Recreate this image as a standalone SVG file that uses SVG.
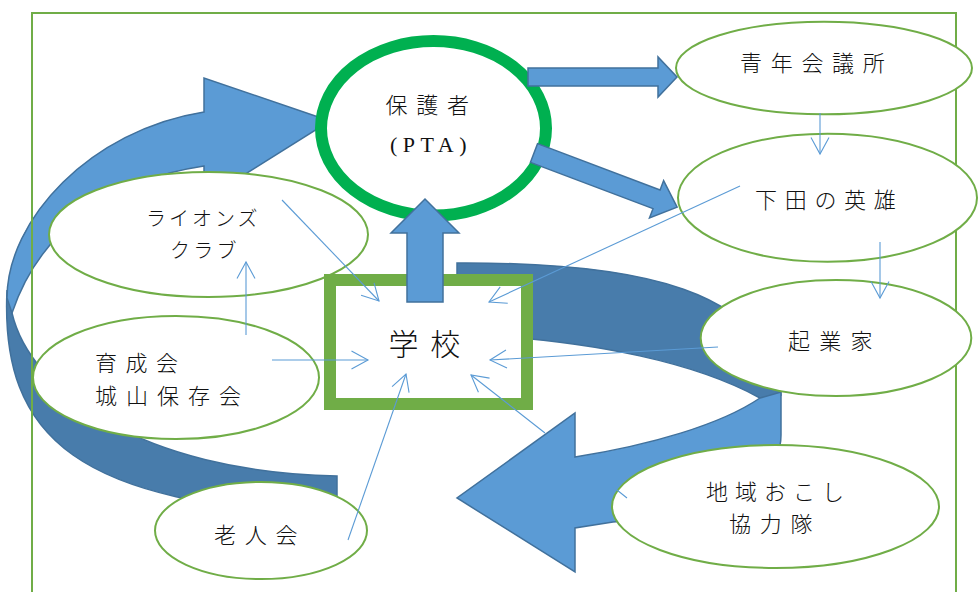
<svg xmlns="http://www.w3.org/2000/svg" width="978" height="592" viewBox="0 0 978 592">
<style>
  .node{fill:#ffffff;stroke:#70ad47;stroke-width:2}
  .pta{fill:#ffffff;stroke:#00b050;stroke-width:12}
  .school{fill:#ffffff;stroke:#70ad47;stroke-width:12}
  .lbl{font-family:"Noto Sans CJK JP","Noto Sans",sans-serif;font-size:22px;font-weight:300;fill:#111}
  .lat{font-family:"Liberation Serif","Noto Sans CJK JP",serif;font-size:22px;fill:#111}
  .blk{fill:#5b9bd5;stroke:#41719c;stroke-width:1.5;stroke-linejoin:miter}
  .dark{fill:#487cab;stroke:#41719c;stroke-width:1.5}
  .con{fill:none;stroke:#5b9bd5;stroke-width:1.1}
  .frame{fill:none;stroke:#70ad47;stroke-width:2}
</style>
<defs>
  <marker id="arr" markerUnits="userSpaceOnUse" viewBox="-18 -11 20 22" refX="0" refY="0" markerWidth="20" markerHeight="22" orient="auto" overflow="visible">
    <path d="M-16.5,-9 L0,0 L-16.5,9" fill="none" stroke="#5b9bd5" stroke-width="1.1"/>
  </marker>
</defs>

<g id="cycle-arrows">
  <!-- left curved arrow: back (dark) part -->
  <path class="dark" d="M7,290 C0,440 80,505 337,515 L337,476 C140,472 30,390 12,313 Z"/>
  <!-- left curved arrow: front (light) part with head -->
  <path class="blk" d="M204,112 L204,78 L330,121 L204,200 L204,166 C110,180 40,230 12,313 L7,298 C7,220 90,130 204,112 Z"/>
  <!-- right curved arrow: back (dark) part -->
  <path class="dark" d="M457,263 C640,262 770,290 781,395 L760,398 C700,365 600,340 457,334 Z"/>
  <!-- right curved arrow: front (light) part with head -->
  <path class="blk" d="M781,392 L781,435 C781,490 700,515 613,522 L575,528 L575,572 L457,498 L575,413 L575,457 C650,445 720,425 760,398 Z"/>
</g>

<rect class="frame" x="32" y="13" width="924" height="600"/>

<g id="pta">
  <ellipse class="pta" cx="433.5" cy="128.3" rx="112.5" ry="87.3"/>
  <text class="lbl" x="385.5" y="112.5" letter-spacing="8.8">保護者</text>
  <text class="lat" x="390" y="152" letter-spacing="5.5">(PTA)</text>
</g>
<g id="seinen">
  <ellipse class="node" cx="824" cy="68" rx="148" ry="46.3"/>
  <text class="lbl" x="740" y="71.3" letter-spacing="8.7">青年会議所</text>
</g>
<g id="shimoda">
  <ellipse class="node" cx="827.5" cy="197.7" rx="149.5" ry="64"/>
  <text class="lbl" x="755" y="208.4" letter-spacing="7.7">下田の英雄</text>
</g>
<g id="kigyouka">
  <ellipse class="node" cx="836" cy="338" rx="135.3" ry="58"/>
  <text class="lbl" x="788" y="348.7" letter-spacing="9.3">起業家</text>
</g>
<g id="chiiki">
  <ellipse class="node" cx="775.5" cy="506.5" rx="163.5" ry="61.5"/>
  <text class="lbl" x="706" y="499.7" letter-spacing="7">地域おこし</text>
  <text class="lbl" x="729" y="532" letter-spacing="8.7">協力隊</text>
</g>
<g id="roujin">
  <ellipse class="node" cx="261" cy="530.5" rx="106" ry="48.5"/>
  <text class="lbl" x="214" y="543" letter-spacing="8.8">老人会</text>
</g>
<g id="ikusei">
  <ellipse class="node" cx="176" cy="377.5" rx="143" ry="61.5"/>
  <text class="lbl" x="95" y="371.4" letter-spacing="8.5">育成会</text>
  <text class="lbl" x="95" y="403.7" letter-spacing="9">城山保存会</text>
</g>
<g id="lions">
  <ellipse class="node" cx="208.5" cy="234.5" rx="159.5" ry="62.5"/>
  <text class="lbl" x="146" y="225.6" font-size="20" style="font-size:20px" letter-spacing="3">ライオンズ</text>
  <text class="lbl" x="170" y="257.6" style="font-size:20px" letter-spacing="3.3">クラブ</text>
</g>
<g id="school">
  <rect class="school" x="330" y="280" width="197" height="124"/>
  <text class="lbl" x="388.5" y="354.7" style="font-size:30px" letter-spacing="11.7">学校</text>
</g>

<g id="connectors">
  <path class="blk" d="M407,302 L443,302 L443,233 L459,233 L425,199 L391,233 L407,233 Z"/>
  <path class="blk" d="M528,68 L658,68 L658,57 L677,77 L658,97 L658,86 L528,86 Z"/>
  <path class="blk" transform="translate(534,153) rotate(20.7)" d="M0,-10 L131,-10 L131,-20 L153,0 L131,20 L131,10 L0,10 Z"/>
  <path class="con" marker-end="url(#arr)" d="M282,200 L379,301"/>
  <path class="con" marker-end="url(#arr)" d="M246,335 L246,262"/>
  <path class="con" marker-end="url(#arr)" d="M272,360 L368,360"/>
  <path class="con" marker-end="url(#arr)" d="M348,540 L406,374"/>
  <path class="con" marker-end="url(#arr)" d="M740,186 L489,302"/>
  <path class="con" marker-end="url(#arr)" d="M718,347 L490,360"/>
  <path class="con" marker-end="url(#arr)" d="M627,498 L612,486 M545,433 L471,375"/>
  <path class="con" marker-end="url(#arr)" d="M820,113 L820,154"/>
  <path class="con" marker-end="url(#arr)" d="M880,242 L880,298"/>
</g>
</svg>
